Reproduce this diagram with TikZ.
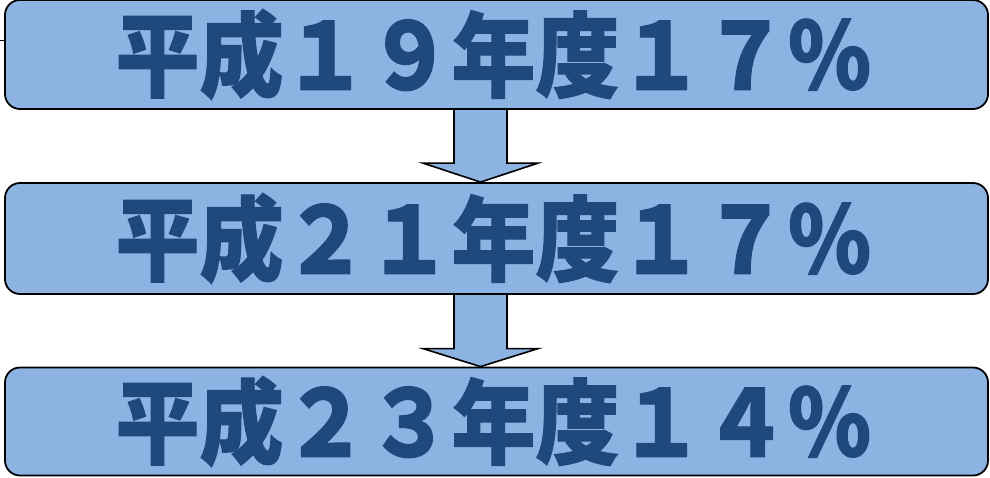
\documentclass[tikz,border=0pt]{standalone}
\usepackage{fontspec}
\newfontfamily\cjk{Noto Sans CJK JP}[BoldFeatures={FakeBold=1.2}]
\usetikzlibrary{calc,backgrounds}
\definecolor{boxfill}{RGB}{141,179,226}
\definecolor{txtblue}{RGB}{31,73,125}
\tikzset{
  yearbox/.style={draw=black, fill=boxfill, line width=1.8pt, rounded corners=15pt,
    minimum width=983pt, inner sep=0pt, text=txtblue,
    font=\cjk\bfseries\fontsize{84}{84}\selectfont},
  blockarrow/.style={draw=black, fill=boxfill, line width=1.6pt, line join=miter}
}
\begin{document}
\begin{tikzpicture}[x=1pt,y=-1pt]
\useasboundingbox (0,0) rectangle (990,477);
\coordinate (ax) at (480.5,0);
\coordinate (stub) at (0,40);
\node[yearbox, minimum height=109pt] (b1) at (496.5,54.5) {\hspace*{-6pt}\scalebox{1}[1.1]{平成１９年度１７％}};
\node[yearbox, minimum height=111pt] (b2) at (496.5,238.5) {\hspace*{-6pt}\scalebox{1}[1.1]{平成２１年度１７％}};
\node[yearbox, minimum height=108pt] (b3) at (496.5,421.5) {\hspace*{-6pt}\scalebox{1}[1.1]{平成２３年度１４％}};
\begin{pgfonlayer}{background}
\draw[blockarrow] ($(b1.south-|ax)+(-26.5,-2)$) -- ($(b2.north-|ax)+(-26.5,-19)$) -- ($(b2.north-|ax)+(-57.5,-19)$)
  -- (b2.north-|ax) -- ($(b2.north-|ax)+(57.5,-19)$) -- ($(b2.north-|ax)+(26.5,-19)$) -- ($(b1.south-|ax)+(26.5,-2)$);
\draw[blockarrow] ($(b2.south-|ax)+(-26.5,-2)$) -- ($(b3.north-|ax)+(-26.5,-18)$) -- ($(b3.north-|ax)+(-57.5,-18)$)
  -- (b3.north-|ax) -- ($(b3.north-|ax)+(57.5,-18)$) -- ($(b3.north-|ax)+(26.5,-18)$) -- ($(b2.south-|ax)+(26.5,-2)$);
\end{pgfonlayer}
\draw[line width=1pt] (stub) -- (stub-|b1.west);
\end{tikzpicture}
\end{document}
